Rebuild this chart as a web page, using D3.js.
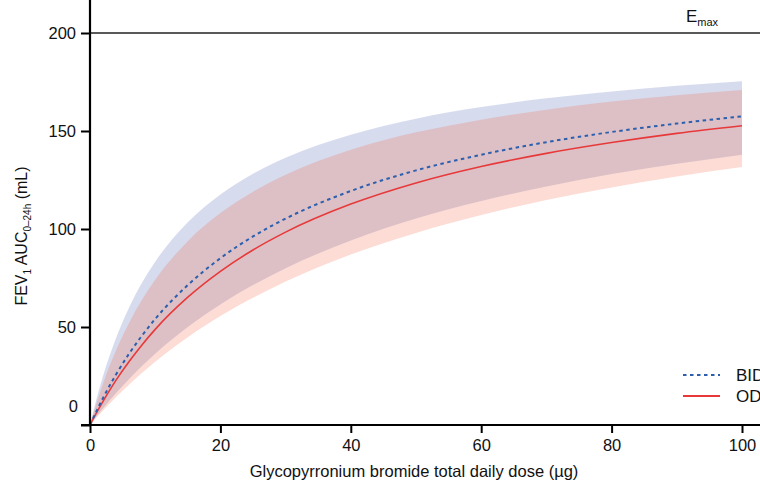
<!DOCTYPE html>
<html>
<head>
<meta charset="utf-8">
<script src="https://cdn.jsdelivr.net/npm/d3@7"></script>
<style>
  body { margin: 0; background: #fff; }
  text { font-family: "Liberation Sans", Arial, sans-serif; fill: #111; }
</style>
</head>
<body>
<div id="chart"></div>
<script>
// Doses (µg) and values (mL)
var doses     = [0, 1, 2, 4, 6, 8, 10, 15, 20, 25, 30, 40, 50, 60, 70, 80, 90, 100];
var bidMean   = [0, 7.1, 13.8, 25.8, 36.4, 45.7, 54.1, 71.4, 85.1, 96.2, 105.3, 119.4, 129.9, 137.9, 144.3, 149.5, 153.8, 157.5];
var bidUpper  = [0, 13.3, 25, 44.4, 60, 72.7, 83.3, 103.4, 117.6, 128.2, 136.4, 148.1, 156.3, 162.2, 166.7, 170.2, 173.1, 175.4];
var bidLower  = [0, 4.3, 8.5, 16.3, 23.5, 30.2, 36.4, 50, 61.5, 71.4, 80, 94.1, 105.3, 114.3, 121.7, 128, 133.3, 137.9];
var odMean    = [0, 6.3, 12.1, 22.9, 32.4, 41, 48.8, 65.2, 78.4, 89.3, 98.4, 112.7, 123.5, 131.9, 138.6, 144.1, 148.8, 152.7];
var odUpper   = [0, 11.1, 21.1, 38.1, 52.2, 64, 74.1, 93.8, 108.1, 119, 127.7, 140.4, 149.3, 155.8, 160.9, 165, 168.2, 170.9];
var odLower   = [0, 3.8, 7.4, 14.3, 20.7, 26.7, 32.3, 44.8, 55.6, 64.9, 73.2, 87, 98, 107.1, 114.8, 121.2, 126.8, 131.6];
var emax = 200;
var xTicks = [0, 20, 40, 60, 80, 100];
var yTicks = [0, 50, 100, 150, 200];

var W = 760, H = 486;
var x0 = 90, x1 = 742, yBase = 425, yTop = 33;

var svg = d3.select("#chart").append("svg")
    .attr("width", W)
    .attr("height", H);

var x = d3.scaleLinear().domain([0, 100]).range([x0, x1]);
var y = d3.scaleLinear().domain([0, 200]).range([yBase, yTop]);

function rows(mean, lo, hi) {
    return doses.map(function(d, i) { return { d: d, m: mean[i], lo: lo[i], hi: hi[i] }; });
}
var bid = rows(bidMean, bidLower, bidUpper);
var od = rows(odMean, odLower, odUpper);

var area = d3.area()
    .curve(d3.curveMonotoneX)
    .x(function(r) { return x(r.d); })
    .y0(function(r) { return y(r.lo); })
    .y1(function(r) { return y(r.hi); });

var line = d3.line()
    .curve(d3.curveMonotoneX)
    .x(function(r) { return x(r.d); })
    .y(function(r) { return y(r.m); });

// Bands
svg.append("path").datum(bid).attr("d", area)
    .attr("fill", "#2035a0").attr("fill-opacity", 0.18);
svg.append("path").datum(od).attr("d", area)
    .attr("fill", "#f0603a").attr("fill-opacity", 0.22);

// Emax line
svg.append("line")
    .attr("x1", x0).attr("x2", W)
    .attr("y1", y(emax)).attr("y2", y(emax))
    .attr("stroke", "#222").attr("stroke-width", 1.3);

var emaxLabel = svg.append("text")
    .attr("x", 686).attr("y", 22)
    .style("font-size", "17px");
emaxLabel.append("tspan").text("E");
emaxLabel.append("tspan").attr("dy", 4).style("font-size", "11px").text("max");

// Mean curves
svg.append("path").datum(od).attr("d", line)
    .attr("fill", "none").attr("stroke", "#e8393a").attr("stroke-width", 1.6);
svg.append("path").datum(bid).attr("d", line)
    .attr("fill", "none").attr("stroke", "#2c5fad").attr("stroke-width", 2)
    .attr("stroke-dasharray", "3.5,3.5");

// Axes
var xAxis = d3.axisBottom(x).tickValues(xTicks).tickSize(8).tickPadding(6);
var gx = svg.append("g")
    .attr("transform", "translate(0," + yBase + ")")
    .call(xAxis);
gx.select(".domain").remove();
gx.selectAll(".tick line").attr("stroke", "#000").attr("stroke-width", 2);
gx.selectAll(".tick text").style("font-size", "16.5px").attr("fill", "#111");
gx.append("line").attr("x1", 81).attr("x2", W).attr("y1", 0).attr("y2", 0)
    .attr("stroke", "#000").attr("stroke-width", 2.2);

var yAxis = d3.axisLeft(y).tickValues(yTicks).tickSize(9).tickPadding(6);
var gy = svg.append("g")
    .attr("transform", "translate(" + x0 + ",0)")
    .call(yAxis);
gy.select(".domain").remove();
gy.selectAll(".tick line").attr("stroke", "#000").attr("stroke-width", 2);
gy.selectAll(".tick text").style("font-size", "16.5px").attr("fill", "#111")
    .attr("dy", function(d) { return d === 0 ? "-0.8em" : "0.32em"; })
    .attr("x", function(d) { return d === 0 ? -12 : -14; });
gy.append("line").attr("x1", 0).attr("x2", 0).attr("y1", yBase + 1).attr("y2", 0)
    .attr("stroke", "#000").attr("stroke-width", 2.2);

// Axis titles
svg.append("text")
    .attr("x", 414).attr("y", 477)
    .attr("text-anchor", "middle")
    .style("font-size", "16.5px")
    .text("Glycopyrronium bromide total daily dose (µg)");

var yt = svg.append("text")
    .attr("transform", "translate(27,236) rotate(-90)")
    .attr("text-anchor", "middle")
    .style("font-size", "16px");
yt.append("tspan").text("FEV");
yt.append("tspan").attr("dy", 4).style("font-size", "10px").text("1");
yt.append("tspan").attr("dy", -4).text(" AUC");
yt.append("tspan").attr("dy", 4).style("font-size", "10px").text("0\u201324h");
yt.append("tspan").attr("dy", -4).text(" (mL)");

// Legend (text runs past the right edge, as in the original crop)
var legend = [
    { label: "BID", color: "#2c5fad", dash: "3.5,3.5", w: 2, yy: 375 },
    { label: "OD",  color: "#e8393a", dash: null, w: 1.8, yy: 396 }
];
var lg = svg.selectAll(".legend").data(legend).enter().append("g").attr("class", "legend");
lg.append("line")
    .attr("x1", 683).attr("x2", 720)
    .attr("y1", function(d) { return d.yy; }).attr("y2", function(d) { return d.yy; })
    .attr("stroke", function(d) { return d.color; })
    .attr("stroke-width", function(d) { return d.w; })
    .attr("stroke-dasharray", function(d) { return d.dash; });
lg.append("text")
    .attr("x", 736).attr("y", function(d) { return d.yy + 6; })
    .style("font-size", "17px")
    .text(function(d) { return d.label; });
</script>
</body>
</html>
